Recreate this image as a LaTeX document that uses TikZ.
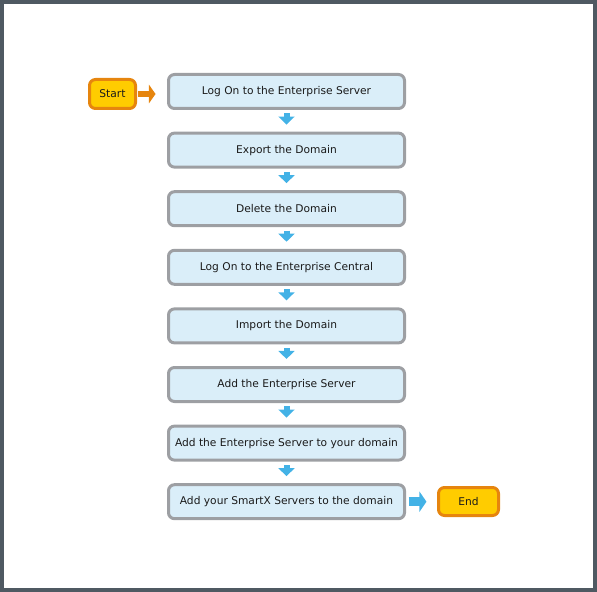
\documentclass[tikz,border=0pt]{standalone}
\usepackage{fontspec}
\setmainfont{DejaVu Sans}
\usetikzlibrary{arrows.meta}
\definecolor{frameC}{HTML}{4F5962}
\definecolor{boxfill}{HTML}{DAEEF9}
\definecolor{boxline}{HTML}{9D9FA3}
\definecolor{termfill}{HTML}{FFCC00}
\definecolor{termline}{HTML}{E6850E}
\definecolor{arrblue}{HTML}{43B2E6}
\definecolor{txt}{HTML}{1A1A1A}
\begin{document}
\begin{tikzpicture}[x=0.75pt,y=-0.75pt,
  stepbox/.style={draw=boxline, fill=boxfill, line width=2.25pt, rounded corners=4.5pt,
    minimum width=177pt, minimum height=25.5pt, inner sep=0pt, font=\fontsize{8pt}{10pt}\selectfont, text=txt},
  termbox/.style={draw=termline, fill=termfill, line width=2.25pt, rounded corners=4.5pt,
    inner sep=0pt, font=\fontsize{8pt}{10pt}\selectfont, text=txt},
  downarrow/.style={draw=arrblue, line width=4.5pt, shorten <=2.6pt, shorten >=5.3pt,
    -{Triangle[width=12pt,length=6pt]}},
]
\useasboundingbox (0,0) rectangle (597,592);
\draw[frameC, line width=3pt] (2,2) rectangle (595,590);

\node[stepbox] (b1) at (286.5,91.5) {Log On to the Enterprise Server};
\node[stepbox] (b2) at (286.5,150.1) {Export the Domain};
\node[stepbox] (b3) at (286.5,208.7) {Delete the Domain};
\node[stepbox] (b4) at (286.5,267.3) {Log On to the Enterprise Central};
\node[stepbox] (b5) at (286.5,325.9) {Import the Domain};
\node[stepbox] (b6) at (286.5,384.5) {Add the Enterprise Server};
\node[stepbox] (b7) at (286.5,443.1) {Add the Enterprise Server to your domain};
\node[stepbox] (b8) at (286.5,501.7) {Add your SmartX Servers to the domain};

\node[termbox, minimum width=34.5pt, minimum height=21.75pt] (start) at (112.5,94) {Start};
\node[termbox, minimum width=45pt, minimum height=21pt] (end) at (468.5,501.5) {End};

\foreach \a/\b in {b1/b2,b2/b3,b3/b4,b4/b5,b5/b6,b6/b7,b7/b8}
  \draw[downarrow] (\a.south) -- (\b.north);

\draw[termline, line width=4.5pt, shorten <=0.8pt, shorten >=8.6pt,
  -{Triangle[width=14pt,length=5pt]}] (start.east) -- (start.east -| b1.west);
\draw[arrblue, line width=6.75pt, shorten <=1.9pt, shorten >=7.9pt,
  -{Triangle[width=15pt,length=5.25pt]}] (b8.east) -- (b8.east -| end.west);
\end{tikzpicture}
\end{document}
